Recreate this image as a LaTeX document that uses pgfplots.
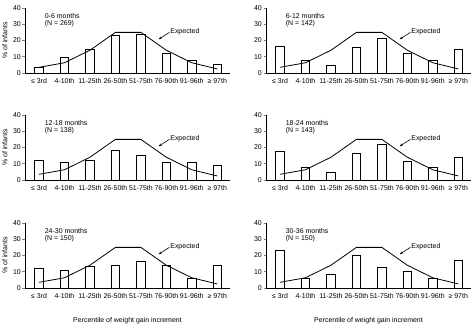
\documentclass[border=0pt]{standalone}
\usepackage{pgfplots}
\pgfplotsset{compat=1.18}
\usepackage{pgfplotstable}
\usetikzlibrary{arrows.meta}
\usepackage{fontspec}
\setmainfont{Liberation Sans}

\pgfplotstableread{
x p1 p2 p3 p4 p5 p6 e
0 3.3 16.2 12.0 17.5 12.1 22.9 3.5
1 9.3 7.5 11.0 7.7 10.9 5.8 6.3
2 14.7 4.8 12.0 4.6 13.0 8.6 14
3 23.0 16.0 18.5 16.2 13.8 20.3 25
4 24.0 21.3 15.0 22.0 16.3 12.6 25
5 11.8 11.8 11.0 11.2 13.8 10.5 14
6 7.9 7.9 11.0 7.7 5.9 6.2 6.3
7 5.2 14.5 9.0 14.2 13.6 16.9 2.5
}\datatable

\pgfplotsset{
  panel/.style={
    scale only axis, width=205bp, height=65bp,
    anchor=south west,
    xmin=-0.55, xmax=7.5, ymin=0, ymax=40,
    axis x line*=bottom, axis y line*=left,
    axis line style={-, line width=0.7bp},
    xtick={0,...,7},
    xticklabels={{≤ 3rd},{4-10th},{11-25th},{26-50th},{51-75th},{76-90th},{91-96th},{≥ 97th}},
    x tick style={draw=none},
    ytick={0,10,20,30,40},
    y tick style={line width=0.7bp},
    tick align=outside, major tick length=2.5bp,
    every tick label/.append style={font=\fontsize{7}{8}\selectfont},
    /pgf/number format/assume math mode=true,
    xticklabel style={inner sep=1pt, yshift=-1.5bp},
    yticklabel style={inner sep=1.5pt},
    ylabel style={font=\fontsize{7}{8}\selectfont, at={(axis description cs:-0.098,0.5)}, anchor=center},
    xlabel style={font=\fontsize{7}{8}\selectfont, at={(axis description cs:0.5,-0.5)}, anchor=center},
    clip=false,
  },
}

\newcommand{\panel}[7]{%
\begin{axis}[panel, at={(#1,#2)}, ylabel={#6}, xlabel={#7}]
\addplot[ybar, bar width=8.5bp, draw=black, fill=white, line width=0.8bp] table[x=x,y=#3]{\datatable};
\addplot[black, line width=0.8bp, mark=none] table[x=x,y=e]{\datatable};
\node[anchor=west, align=left, font=\fontsize{7}{8}\selectfont, inner sep=0pt] at (axis cs:0.22,32.5) {#4\\(N = #5)};
\node[anchor=west, font=\fontsize{7}{8}\selectfont, inner sep=0pt] at (axis cs:5.15,25.6) {Expected};
\draw[line width=0.6bp, -{Stealth[length=3bp,width=2.5bp]}] (axis cs:5.12,25) -- (axis cs:4.7,20.8);
\end{axis}}

\begin{document}
\begin{tikzpicture}
\useasboundingbox (0,0) rectangle (474bp,326bp);
\panel{25bp}{253bp}{p1}{0-6 months}{269}{\% of infants}{}
\panel{266bp}{253bp}{p2}{6-12 months}{142}{}{}
\panel{25bp}{146bp}{p3}{12-18 months}{138}{\% of infants}{}
\panel{266bp}{146bp}{p4}{18-24 months}{143}{}{}
\panel{25bp}{38bp}{p5}{24-30 months}{150}{\% of infants}{Percentile of weight gain increment}
\panel{266bp}{38bp}{p6}{30-36 months}{150}{}{Percentile of weight gain increment}
\end{tikzpicture}
\end{document}
